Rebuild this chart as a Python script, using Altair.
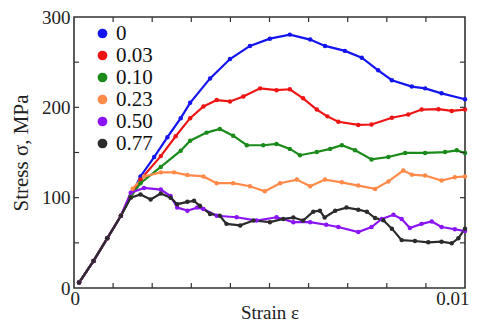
import altair as alt
import pandas as pd

# ---- data ----
series_names = ["0", "0.03", "0.10", "0.23", "0.50", "0.77"]
series_colors = ["#1414f0", "#ee1414", "#1a8a1a", "#ff8a4a", "#8a14f5", "#2b2b2b"]

elastic_x = [0.00013, 0.0005, 0.00085, 0.0012]
elastic_y = [6, 30, 55, 80]

s0_x = [0.00145, 0.0017, 0.00205, 0.00239, 0.00273, 0.00297, 0.00348, 0.00399, 0.0045, 0.00501,
        0.00552, 0.00604, 0.00642, 0.00693, 0.00736, 0.00778, 0.00813, 0.00864, 0.00898, 0.0094, 0.01]
s0_y = [101, 123.5, 145, 167, 188, 205, 232, 253.5, 268, 276,
        280.5, 275, 268, 262.5, 255, 241, 230, 223, 221, 215.5, 209]

s1_x = [0.00145, 0.0017, 0.00222, 0.0026, 0.00297, 0.00331, 0.00365, 0.00399, 0.00433, 0.00476,
        0.00518, 0.00552, 0.00586, 0.00621, 0.00648, 0.00676, 0.00727, 0.00761, 0.00813, 0.00855,
        0.00889, 0.00932, 0.00966, 0.01]
s1_y = [101, 120, 146, 168, 188, 201, 208, 206.5, 212, 221,
        219, 220, 210, 197.5, 190, 184, 180.5, 181, 188.5, 192,
        197.5, 198, 196, 197.5]

s2_x = [0.00145, 0.0017, 0.00222, 0.00273, 0.00297, 0.00339, 0.00373, 0.00407, 0.00442, 0.00484,
        0.00518, 0.00552, 0.00578, 0.00621, 0.00655, 0.00685, 0.00719, 0.00761, 0.00804, 0.00847,
        0.00898, 0.00949, 0.00979, 0.01]
s2_y = [101, 116, 134, 152, 163, 172, 176, 168.6, 158, 158,
        159.5, 154, 147, 150.5, 154, 158, 152.4, 142.3, 145, 149.5,
        149.5, 150.5, 152.4, 149.5]

s3_x = [0.0015, 0.00179, 0.00222, 0.00256, 0.0029, 0.00331, 0.00365, 0.00407, 0.0045, 0.00488,
        0.00527, 0.0057, 0.00604, 0.00642, 0.00685, 0.00727, 0.0077, 0.00804, 0.00842, 0.00864,
        0.00898, 0.0094, 0.00974, 0.01]
s3_y = [110, 123.5, 128, 128, 125, 123.5, 116, 116, 112.6, 107,
        116, 120, 112.6, 120, 117, 113.4, 109.7, 118, 130, 125.5,
        124.5, 119, 122.6, 123.5]

s4_x = [0.00145, 0.00179, 0.00222, 0.00247, 0.00264, 0.0029, 0.00315, 0.00331, 0.00365, 0.00416,
        0.00467, 0.00518, 0.00561, 0.00604, 0.00645, 0.00676, 0.00727, 0.00761, 0.00787, 0.00817,
        0.00838, 0.00859, 0.00889, 0.00915, 0.0094, 0.00974, 0.01]
s4_y = [105.4, 110.8, 109, 101.8, 89, 85.6, 89, 87.4, 80, 78.3,
        74.7, 78.3, 72.9, 72.9, 70, 67.5, 62, 67.5, 76.5, 81,
        76.5, 66.4, 71, 73.6, 67.5, 65, 63]

s5_x = [0.00145, 0.0017, 0.00196, 0.00222, 0.00247, 0.00264, 0.0029, 0.00307, 0.00322, 0.00348,
        0.00373, 0.0039, 0.00425, 0.00459, 0.00501, 0.00535, 0.00561, 0.00586, 0.00612, 0.00629,
        0.00641, 0.00668, 0.00697, 0.00727, 0.00749, 0.0077, 0.00791, 0.00813, 0.00838, 0.00872,
        0.00906, 0.0094, 0.00966, 0.00983, 0.01]
s5_y = [100, 103.6, 98, 104.6, 100, 92.8, 95.4, 96.5, 91, 82,
        80, 71, 69.3, 74.7, 72.9, 76.5, 78, 74.7, 84.5, 85.5,
        78, 85.5, 89, 86.7, 84.5, 77.4, 75, 65.7, 53, 52,
        50.6, 51.3, 49.5, 55, 65.7]

x_minor_ticks = [0.001, 0.002, 0.003, 0.004, 0.005, 0.006, 0.007, 0.008, 0.009]
y_minor_ticks = [50, 100, 150, 200, 250]
x_labels = [0, 0.01]
y_labels = [0, 100, 200, 300]

# ---- build table ----
rows = []
all_x = [s0_x, s1_x, s2_x, s3_x, s4_x, s5_x]
all_y = [s0_y, s1_y, s2_y, s3_y, s4_y, s5_y]
for k, (name, xs, ys) in enumerate(zip(series_names, all_x, all_y)):
    for i, (a, b) in enumerate(zip(elastic_x + xs, elastic_y + ys)):
        rows.append({"series": name, "k": k, "i": i, "strain": a, "stress": b})
df = pd.DataFrame(rows)

W, H = 391, 271
FONT = "Liberation Serif"

xscale = alt.Scale(domain=[0, 0.01], nice=False, zero=False)
yscale = alt.Scale(domain=[0, 300], nice=False)
cscale = alt.Scale(domain=series_names, range=series_colors)

legend = alt.Legend(title=None, orient="none", legendX=18, legendY=6,
                    symbolType="circle", symbolSize=95, symbolStrokeWidth=0,
                    symbolOpacity=1, labelFontSize=21, labelFont=FONT,
                    labelOffset=3, rowPadding=0, padding=0, labelColor="#111")

xaxis = alt.Axis(values=x_labels, title="Strain ε", ticks=False, grid=False, domain=False,
                 labelExpr="datum.value == 0 ? '0' : '0.01'", labelPadding=1,
                 labelFontSize=19, titleFontSize=19, titlePadding=-5,
                 labelFlush=True, labelFlushOffset=4)
yaxis = alt.Axis(values=y_labels, title="Stress σ,  MPa", ticks=False, grid=False, domain=False,
                 format="d", labelPadding=4, labelFontSize=19, titleFontSize=21, titlePadding=10)

base = alt.Chart(df)
lines = base.mark_line(strokeWidth=2.2).encode(
    x=alt.X("strain:Q", scale=xscale, axis=xaxis),
    y=alt.Y("stress:Q", scale=yscale, axis=yaxis),
    color=alt.Color("series:N", scale=cscale, sort=series_names, legend=legend),
    detail="k:O",
    order="i:Q",
)
points = base.mark_circle(size=20, opacity=1).encode(
    x=alt.X("strain:Q", scale=xscale),
    y=alt.Y("stress:Q", scale=yscale),
    color=alt.Color("series:N", scale=cscale, sort=series_names, legend=legend),
)

xt = pd.DataFrame({"v": x_minor_ticks})
yt = pd.DataFrame({"v": y_minor_ticks})
tick_color = "#333"
xt_bottom = alt.Chart(xt).mark_rule(color=tick_color, strokeWidth=1.2).encode(
    x=alt.X("v:Q", scale=xscale), y=alt.value(H), y2=alt.value(H - 5))
xt_top = alt.Chart(xt).mark_rule(color=tick_color, strokeWidth=1.2).encode(
    x=alt.X("v:Q", scale=xscale), y=alt.value(0), y2=alt.value(5))
yt_left = alt.Chart(yt).mark_rule(color=tick_color, strokeWidth=1.2).encode(
    y=alt.Y("v:Q", scale=yscale), x=alt.value(0), x2=alt.value(5))
yt_right = alt.Chart(yt).mark_rule(color=tick_color, strokeWidth=1.2).encode(
    y=alt.Y("v:Q", scale=yscale), x=alt.value(W), x2=alt.value(W - 5))

chart = alt.layer(lines, points, xt_bottom, xt_top, yt_left, yt_right).properties(
    width=W, height=H,
    autosize=alt.AutoSizeParams(type="none"),
    padding={"left": 66, "top": 9, "right": 6, "bottom": 33},
    background="white",
).configure(
    font=FONT
).configure_view(
    stroke="#333", strokeWidth=1.6
).configure_axis(
    labelFont=FONT, titleFont=FONT, labelColor="#222", titleColor="#222", titleFontWeight="normal"
).configure_legend(
    labelFont=FONT
)

chart.save("out.html", embed_options={"renderer": "svg", "actions": False})
